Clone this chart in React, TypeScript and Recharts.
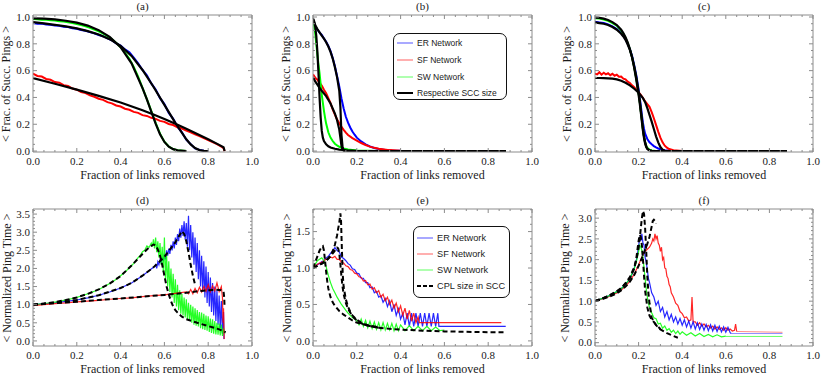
import { LineChart, Line, XAxis, YAxis } from "recharts";

type Pt = [number, number];

const BLUE = "#0000ff";
const RED = "#ff0000";
const GREEN = "#00ff00";
const BLACK = "#000000";
const FRAME = "#8c8c8c";
const SERIF = "'Liberation Serif', 'Times New Roman', serif";
const SANS = "'Liberation Sans', Arial, sans-serif";

// shared tick values
const UNIT_TICKS = [0, 0.05, 0.1, 0.15, 0.2, 0.25, 0.3, 0.35, 0.4, 0.45, 0.5, 0.55, 0.6, 0.65, 0.7, 0.75, 0.8, 0.85, 0.9, 0.95, 1];
const TIME_TICKS = [0, 0.1, 0.2, 0.3, 0.4, 0.5, 0.6, 0.7, 0.8, 0.9, 1, 1.1, 1.2, 1.3, 1.4, 1.5, 1.6, 1.7, 1.8, 1.9, 2, 2.1, 2.2, 2.3, 2.4, 2.5, 2.6, 2.7, 2.8, 2.9, 3, 3.1, 3.2, 3.3, 3.4, 3.5, 3.6];

// (a) fraction of successful pings, random removal
const A_ER: Pt[] = [[0,0.955],[0.02,0.95],[0.04,0.951],[0.06,0.944],[0.08,0.942],[0.1,0.936],[0.12,0.935],[0.14,0.927],[0.16,0.925],[0.18,0.916],[0.2,0.913],[0.22,0.903],[0.24,0.898],[0.26,0.887],[0.28,0.879],[0.3,0.866],[0.32,0.857],[0.34,0.84],[0.36,0.827],[0.38,0.804],[0.4,0.787],[0.42,0.758],[0.44,0.737],[0.46,0.697],[0.48,0.655],[0.5,0.605],[0.52,0.565],[0.54,0.505],[0.56,0.46],[0.58,0.395],[0.6,0.35],[0.62,0.285],[0.64,0.24],[0.66,0.18],[0.68,0.14],[0.7,0.085],[0.72,0.052],[0.74,0.02],[0.76,0.009],[0.78,0.002],[0.8,0]];
const A_ER_SCC: Pt[] = [[0,0.962],[0.05,0.952],[0.1,0.942],[0.15,0.93],[0.2,0.915],[0.25,0.895],[0.3,0.869],[0.35,0.835],[0.4,0.785],[0.45,0.71],[0.5,0.605],[0.55,0.48],[0.6,0.345],[0.65,0.21],[0.7,0.088],[0.72,0.05],[0.74,0.022],[0.76,0.007],[0.78,0.001],[0.8,0]];
const A_SW: Pt[] = [[0,0.985],[0.02,0.984],[0.04,0.98],[0.06,0.979],[0.08,0.975],[0.1,0.974],[0.12,0.968],[0.14,0.966],[0.16,0.96],[0.18,0.955],[0.2,0.948],[0.22,0.94],[0.24,0.93],[0.26,0.92],[0.28,0.906],[0.3,0.893],[0.32,0.876],[0.34,0.857],[0.36,0.835],[0.38,0.807],[0.4,0.775],[0.42,0.735],[0.44,0.688],[0.46,0.628],[0.48,0.556],[0.5,0.472],[0.52,0.388],[0.54,0.3],[0.56,0.21],[0.58,0.13],[0.6,0.07],[0.62,0.034],[0.64,0.015],[0.66,0.006],[0.7,0]];
const A_SW_SCC: Pt[] = [[0,0.99],[0.05,0.988],[0.1,0.982],[0.15,0.972],[0.2,0.958],[0.25,0.936],[0.3,0.902],[0.35,0.852],[0.4,0.775],[0.45,0.655],[0.5,0.47],[0.52,0.385],[0.54,0.295],[0.56,0.205],[0.58,0.125],[0.6,0.068],[0.62,0.033],[0.64,0.014],[0.66,0.005],[0.7,0]];
const A_SF: Pt[] = [[0,0.578],[0.02,0.56],[0.04,0.556],[0.06,0.538],[0.08,0.532],[0.1,0.515],[0.12,0.51],[0.14,0.492],[0.16,0.485],[0.18,0.466],[0.2,0.458],[0.22,0.44],[0.24,0.432],[0.26,0.415],[0.28,0.405],[0.3,0.39],[0.32,0.382],[0.34,0.365],[0.36,0.356],[0.38,0.34],[0.4,0.332],[0.42,0.316],[0.44,0.308],[0.46,0.292],[0.48,0.285],[0.5,0.268],[0.52,0.262],[0.54,0.248],[0.56,0.24],[0.58,0.225],[0.6,0.218],[0.62,0.202],[0.64,0.194],[0.66,0.178],[0.68,0.168],[0.7,0.152],[0.72,0.14],[0.74,0.124],[0.76,0.112],[0.78,0.096],[0.8,0.082],[0.82,0.066],[0.84,0.052],[0.86,0.034],[0.87,0.022],[0.875,0]];
const A_SF_SCC: Pt[] = [[0,0.545],[0.1,0.502],[0.2,0.458],[0.3,0.412],[0.4,0.362],[0.5,0.305],[0.55,0.273],[0.6,0.24],[0.65,0.204],[0.7,0.167],[0.75,0.128],[0.8,0.088],[0.85,0.046],[0.87,0.028],[0.875,0]];

// (b)
const B_ER: Pt[] = [[0,0.96],[0.01,0.93],[0.02,0.907],[0.03,0.884],[0.04,0.866],[0.05,0.84],[0.06,0.816],[0.07,0.784],[0.08,0.746],[0.09,0.694],[0.1,0.632],[0.11,0.558],[0.12,0.482],[0.13,0.392],[0.14,0.318],[0.15,0.256],[0.16,0.212],[0.17,0.176],[0.18,0.146],[0.19,0.122],[0.2,0.1],[0.22,0.072],[0.24,0.05],[0.26,0.034],[0.28,0.023],[0.3,0.015],[0.33,0.008],[0.36,0.004],[0.4,0.002],[0.5,0.001],[0.6,0],[0.88,0]];
const B_ER_SCC: Pt[] = [[0,0.985],[0.01,0.94],[0.02,0.91],[0.03,0.886],[0.04,0.862],[0.05,0.838],[0.06,0.812],[0.07,0.78],[0.08,0.74],[0.09,0.69],[0.1,0.625],[0.11,0.55],[0.12,0.45],[0.125,0.33],[0.13,0.12],[0.135,0.03],[0.14,0.008],[0.16,0],[0.88,0]];
const B_SF: Pt[] = [[0,0.572],[0.01,0.548],[0.02,0.532],[0.03,0.508],[0.04,0.488],[0.05,0.458],[0.06,0.432],[0.07,0.394],[0.08,0.357],[0.09,0.31],[0.1,0.272],[0.11,0.236],[0.12,0.207],[0.13,0.18],[0.14,0.158],[0.15,0.137],[0.16,0.12],[0.18,0.097],[0.2,0.078],[0.22,0.06],[0.24,0.045],[0.26,0.033],[0.28,0.024],[0.3,0.017],[0.35,0.007],[0.4,0.003],[0.5,0.001],[0.6,0],[0.88,0]];
const B_SF_SCC: Pt[] = [[0,0.55],[0.01,0.52],[0.02,0.495],[0.03,0.472],[0.04,0.45],[0.06,0.41],[0.08,0.355],[0.1,0.28],[0.11,0.23],[0.12,0.16],[0.125,0.1],[0.13,0.04],[0.135,0.01],[0.14,0.002],[0.16,0],[0.88,0]];
const B_SW: Pt[] = [[0,0.975],[0.005,0.94],[0.01,0.88],[0.015,0.8],[0.02,0.72],[0.025,0.645],[0.03,0.58],[0.035,0.5],[0.04,0.42],[0.045,0.36],[0.05,0.3],[0.055,0.25],[0.06,0.205],[0.07,0.14],[0.08,0.1],[0.09,0.075],[0.1,0.055],[0.11,0.042],[0.12,0.032],[0.14,0.02],[0.16,0.012],[0.2,0.005],[0.25,0.002],[0.3,0],[0.88,0]];
const B_SW_SCC: Pt[] = [[0,0.99],[0.005,0.97],[0.01,0.93],[0.015,0.86],[0.02,0.74],[0.025,0.58],[0.03,0.4],[0.035,0.25],[0.04,0.15],[0.045,0.1],[0.05,0.075],[0.06,0.05],[0.07,0.036],[0.08,0.027],[0.1,0.017],[0.12,0.011],[0.15,0.006],[0.2,0.002],[0.3,0],[0.88,0]];

// (c)
const C_ER: Pt[] = [[0,0.965],[0.02,0.96],[0.04,0.955],[0.06,0.945],[0.08,0.93],[0.1,0.91],[0.12,0.88],[0.13,0.86],[0.14,0.835],[0.15,0.8],[0.16,0.76],[0.17,0.71],[0.18,0.64],[0.19,0.56],[0.2,0.46],[0.205,0.4],[0.21,0.34],[0.215,0.27],[0.22,0.21],[0.225,0.165],[0.23,0.13],[0.24,0.09],[0.25,0.065],[0.26,0.05],[0.27,0.037],[0.28,0.027],[0.29,0.019],[0.3,0.013],[0.32,0.006],[0.35,0.002],[0.4,0],[0.88,0]];
const C_ER_SCC: Pt[] = [[0,0.96],[0.02,0.955],[0.04,0.95],[0.06,0.94],[0.08,0.925],[0.1,0.905],[0.12,0.875],[0.13,0.855],[0.14,0.83],[0.15,0.795],[0.16,0.755],[0.17,0.7],[0.18,0.63],[0.19,0.545],[0.2,0.44],[0.205,0.38],[0.21,0.31],[0.215,0.24],[0.22,0.17],[0.225,0.11],[0.23,0.065],[0.235,0.035],[0.24,0.018],[0.25,0.005],[0.26,0.001],[0.28,0],[0.88,0]];
const C_SW: Pt[] = [[0,0.99],[0.02,0.988],[0.04,0.982],[0.06,0.972],[0.08,0.955],[0.1,0.935],[0.12,0.9],[0.13,0.875],[0.14,0.845],[0.15,0.805],[0.16,0.76],[0.17,0.7],[0.18,0.625],[0.19,0.535],[0.2,0.43],[0.205,0.37],[0.21,0.3],[0.215,0.23],[0.22,0.16],[0.225,0.105],[0.23,0.065],[0.235,0.04],[0.24,0.024],[0.25,0.01],[0.26,0.004],[0.28,0.001],[0.3,0],[0.88,0]];
const C_SW_SCC: Pt[] = [[0,0.995],[0.02,0.993],[0.04,0.988],[0.06,0.978],[0.08,0.962],[0.1,0.94],[0.12,0.905],[0.13,0.88],[0.14,0.85],[0.15,0.81],[0.16,0.76],[0.17,0.7],[0.18,0.62],[0.19,0.525],[0.2,0.42],[0.205,0.36],[0.21,0.29],[0.215,0.22],[0.22,0.15],[0.225,0.095],[0.23,0.055],[0.235,0.03],[0.24,0.015],[0.25,0.004],[0.26,0.001],[0.28,0],[0.88,0]];
const C_SF: Pt[] = [[0,0.578],[0.01,0.572],[0.02,0.588],[0.03,0.57],[0.04,0.584],[0.05,0.572],[0.06,0.58],[0.07,0.566],[0.08,0.576],[0.09,0.562],[0.1,0.57],[0.11,0.555],[0.12,0.556],[0.13,0.54],[0.14,0.535],[0.15,0.518],[0.16,0.508],[0.17,0.49],[0.18,0.476],[0.19,0.456],[0.2,0.44],[0.21,0.42],[0.22,0.396],[0.23,0.37],[0.24,0.35],[0.25,0.33],[0.26,0.29],[0.27,0.245],[0.28,0.195],[0.29,0.145],[0.3,0.1],[0.31,0.065],[0.32,0.04],[0.33,0.025],[0.34,0.015],[0.36,0.006],[0.4,0.001],[0.45,0],[0.88,0]];
const C_SF_SCC: Pt[] = [[0,0.545],[0.02,0.545],[0.04,0.544],[0.06,0.542],[0.08,0.54],[0.1,0.535],[0.12,0.525],[0.14,0.51],[0.16,0.49],[0.18,0.465],[0.2,0.435],[0.22,0.395],[0.23,0.365],[0.24,0.32],[0.25,0.27],[0.26,0.22],[0.27,0.165],[0.28,0.11],[0.29,0.065],[0.3,0.03],[0.31,0.01],[0.32,0.002],[0.34,0],[0.88,0]];

// (d) normalized ping time
const D_ER: Pt[] = [[0,1.0],[0.05,1.02],[0.1,1.05],[0.15,1.09],[0.2,1.13],[0.25,1.19],[0.3,1.26],[0.35,1.35],[0.4,1.46],[0.45,1.6],[0.5,1.8],[0.55,2.03],[0.56,2.1],[0.565,2.0],[0.57,2.18],[0.575,2.1],[0.58,2.25],[0.585,2.15],[0.59,2.3],[0.595,2.2],[0.6,2.4],[0.605,2.25],[0.61,2.5],[0.615,2.35],[0.62,2.55],[0.625,2.4],[0.63,2.65],[0.635,2.5],[0.64,2.75],[0.645,2.55],[0.65,2.85],[0.655,2.65],[0.66,2.95],[0.665,2.75],[0.67,3.1],[0.675,2.85],[0.68,3.2],[0.685,2.9],[0.69,3.3],[0.695,2.8],[0.7,3.25],[0.705,2.6],[0.71,3.45],[0.715,2.5],[0.72,3.2],[0.725,2.3],[0.73,3.0],[0.735,2.1],[0.74,2.85],[0.745,1.9],[0.75,2.7],[0.755,1.7],[0.76,2.5],[0.765,1.5],[0.77,2.35],[0.775,1.35],[0.78,2.2],[0.785,1.2],[0.79,2.05],[0.795,1.05],[0.8,1.9],[0.805,0.95],[0.81,1.75],[0.815,0.8],[0.82,1.6],[0.825,0.7],[0.83,1.5],[0.835,0.55],[0.84,1.4],[0.845,0.45],[0.85,1.25],[0.855,0.35],[0.86,1.1],[0.865,0.2],[0.87,0.8],[0.872,0.05]];
const D_ER_CPL: Pt[] = [[0,1.0],[0.1,1.05],[0.2,1.13],[0.3,1.26],[0.4,1.46],[0.45,1.6],[0.5,1.8],[0.55,2.03],[0.6,2.32],[0.65,2.72],[0.68,3.03],[0.69,2.95],[0.7,2.75],[0.71,2.45],[0.72,2.1],[0.73,1.8],[0.74,1.55]];
const D_SF: Pt[] = [[0,0.97],[0.05,1.0],[0.1,1.03],[0.15,1.05],[0.2,1.08],[0.25,1.1],[0.3,1.12],[0.35,1.15],[0.4,1.17],[0.45,1.19],[0.5,1.22],[0.55,1.25],[0.6,1.27],[0.65,1.31],[0.7,1.35],[0.71,1.3],[0.72,1.42],[0.73,1.3],[0.74,1.45],[0.75,1.33],[0.76,1.48],[0.77,1.35],[0.78,1.5],[0.79,1.37],[0.8,1.55],[0.81,1.36],[0.82,1.52],[0.83,1.38],[0.84,1.6],[0.85,1.36],[0.86,1.5],[0.865,1.2],[0.868,0.5],[0.87,0.9],[0.873,0.05]];
const D_SF_CPL: Pt[] = [[0,1.0],[0.1,1.04],[0.2,1.08],[0.3,1.13],[0.4,1.17],[0.5,1.22],[0.6,1.27],[0.7,1.33],[0.75,1.37],[0.8,1.4],[0.84,1.41],[0.86,1.4],[0.87,1.37],[0.873,1.2],[0.875,0.92]];
const D_SW: Pt[] = [[0,1.0],[0.02,1.01],[0.04,1.02],[0.06,1.04],[0.08,1.05],[0.1,1.07],[0.12,1.09],[0.14,1.12],[0.16,1.14],[0.18,1.17],[0.2,1.2],[0.22,1.24],[0.24,1.28],[0.26,1.32],[0.28,1.37],[0.3,1.42],[0.32,1.48],[0.34,1.55],[0.36,1.62],[0.38,1.7],[0.4,1.8],[0.42,1.9],[0.44,2.02],[0.46,2.14],[0.48,2.3],[0.49,2.36],[0.5,2.46],[0.51,2.5],[0.52,2.62],[0.53,2.58],[0.54,2.7],[0.545,2.6],[0.55,2.8],[0.555,2.55],[0.56,2.85],[0.565,2.45],[0.57,2.75],[0.575,2.3],[0.58,2.7],[0.585,2.1],[0.59,2.6],[0.595,1.9],[0.6,2.85],[0.605,1.7],[0.61,2.4],[0.615,1.5],[0.62,2.2],[0.625,1.35],[0.63,2.0],[0.635,1.2],[0.64,1.85],[0.645,1.05],[0.65,1.7],[0.655,0.95],[0.66,1.55],[0.665,0.85],[0.67,1.4],[0.675,0.75],[0.68,1.3],[0.685,0.7],[0.69,1.2],[0.695,0.65],[0.7,1.15],[0.705,0.6],[0.71,1.05],[0.715,0.55],[0.72,1.0],[0.725,0.5],[0.73,0.95],[0.735,0.45],[0.74,0.9],[0.745,0.42],[0.75,0.85],[0.755,0.4],[0.76,0.8],[0.765,0.35],[0.77,0.78],[0.775,0.32],[0.78,0.75],[0.785,0.3],[0.79,0.7],[0.795,0.28],[0.8,0.68],[0.805,0.25],[0.81,0.62],[0.815,0.22],[0.82,0.6],[0.825,0.2],[0.83,0.55],[0.835,0.18],[0.84,0.5],[0.845,0.17],[0.85,0.48],[0.855,0.15],[0.86,0.45],[0.865,0.14],[0.87,0.35],[0.875,0.2]];
const D_SW_CPL: Pt[] = [[0,1.0],[0.05,1.03],[0.1,1.07],[0.15,1.13],[0.2,1.2],[0.25,1.3],[0.3,1.42],[0.35,1.58],[0.4,1.79],[0.45,2.08],[0.5,2.4],[0.53,2.58],[0.55,2.66],[0.56,2.64],[0.57,2.52],[0.58,2.35],[0.59,2.1],[0.6,1.8],[0.61,1.5],[0.62,1.28],[0.63,1.1],[0.64,0.95],[0.65,0.85],[0.66,0.78],[0.68,0.67],[0.7,0.6],[0.75,0.5],[0.8,0.41],[0.85,0.32],[0.88,0.24]];

// (e)
const E_ER: Pt[] = [[0,1.0],[0.01,1.02],[0.02,1.05],[0.03,1.06],[0.04,1.09],[0.05,1.1],[0.06,1.14],[0.07,1.16],[0.08,1.2],[0.09,1.24],[0.1,1.28],[0.11,1.24],[0.12,1.22],[0.13,1.15],[0.14,1.13],[0.15,1.1],[0.16,1.06],[0.17,1.04],[0.18,0.99],[0.19,0.98],[0.2,0.93],[0.21,0.92],[0.22,0.86],[0.23,0.86],[0.24,0.8],[0.25,0.8],[0.26,0.73],[0.27,0.74],[0.28,0.66],[0.29,0.68],[0.3,0.6],[0.31,0.62],[0.32,0.53],[0.33,0.58],[0.34,0.47],[0.35,0.55],[0.36,0.4],[0.37,0.5],[0.38,0.35],[0.39,0.44],[0.4,0.3],[0.41,0.38],[0.42,0.22],[0.43,0.38],[0.44,0.2],[0.45,0.38],[0.46,0.2],[0.47,0.38],[0.48,0.2],[0.49,0.38],[0.5,0.2],[0.51,0.38],[0.52,0.2],[0.53,0.38],[0.54,0.2],[0.55,0.38],[0.56,0.2],[0.57,0.38],[0.575,0.2],[0.88,0.2]];
const E_SF: Pt[] = [[0,1.0],[0.01,1.03],[0.02,1.05],[0.03,1.07],[0.04,1.08],[0.05,1.1],[0.06,1.12],[0.07,1.13],[0.08,1.15],[0.09,1.14],[0.1,1.16],[0.11,1.12],[0.12,1.12],[0.13,1.08],[0.14,1.07],[0.15,1.03],[0.16,1.02],[0.17,0.98],[0.18,0.97],[0.19,0.93],[0.2,0.92],[0.21,0.88],[0.22,0.87],[0.23,0.82],[0.24,0.83],[0.25,0.77],[0.26,0.78],[0.27,0.71],[0.28,0.73],[0.29,0.66],[0.3,0.69],[0.31,0.6],[0.32,0.64],[0.33,0.55],[0.34,0.6],[0.35,0.5],[0.36,0.56],[0.37,0.45],[0.38,0.52],[0.39,0.4],[0.4,0.48],[0.41,0.35],[0.42,0.45],[0.43,0.3],[0.44,0.42],[0.45,0.27],[0.46,0.38],[0.47,0.25],[0.48,0.33],[0.485,0.25],[0.86,0.25]];
const E_SW: Pt[] = [[0,1.0],[0.01,1.05],[0.02,1.1],[0.03,1.12],[0.04,1.14],[0.05,1.1],[0.06,1.02],[0.07,0.9],[0.08,0.8],[0.09,0.72],[0.1,0.66],[0.11,0.6],[0.12,0.55],[0.13,0.5],[0.14,0.46],[0.15,0.42],[0.16,0.38],[0.17,0.35],[0.18,0.32],[0.19,0.3],[0.2,0.28],[0.21,0.22],[0.22,0.3],[0.23,0.2],[0.24,0.28],[0.25,0.18],[0.26,0.27],[0.27,0.17],[0.28,0.26],[0.29,0.16],[0.3,0.25],[0.31,0.15],[0.32,0.25],[0.33,0.15],[0.34,0.24],[0.35,0.15],[0.36,0.24],[0.37,0.14],[0.38,0.23],[0.39,0.14],[0.4,0.22],[0.42,0.14],[0.44,0.21],[0.46,0.14],[0.48,0.2],[0.5,0.14],[0.52,0.2],[0.54,0.14],[0.56,0.19],[0.58,0.14],[0.6,0.15]];
const E_ER_CPL: Pt[] = [[0,1.0],[0.02,1.03],[0.04,1.06],[0.06,1.1],[0.08,1.16],[0.1,1.24],[0.11,1.28],[0.115,1.27],[0.12,1.2],[0.125,1.05],[0.13,0.88],[0.135,0.74],[0.14,0.64],[0.15,0.52],[0.16,0.44],[0.17,0.39],[0.18,0.34],[0.2,0.28],[0.22,0.24],[0.25,0.21],[0.3,0.18]];
const E_SF_CPL: Pt[] = [[0,1.0],[0.02,1.03],[0.04,1.06],[0.06,1.1],[0.08,1.17],[0.09,1.23],[0.1,1.32],[0.11,1.45],[0.115,1.54],[0.12,1.62],[0.125,1.75],[0.128,1.65],[0.132,1.25],[0.136,0.9],[0.14,0.74],[0.15,0.57],[0.16,0.47],[0.17,0.4],[0.18,0.35],[0.2,0.29],[0.22,0.25],[0.25,0.215],[0.3,0.185]];
const E_SW_CPL: Pt[] = [[0,1.0],[0.01,1.08],[0.02,1.16],[0.03,1.24],[0.04,1.29],[0.045,1.3],[0.05,1.24],[0.055,1.1],[0.06,0.95],[0.065,0.82],[0.07,0.72],[0.08,0.6],[0.09,0.53],[0.1,0.48],[0.12,0.41],[0.14,0.36],[0.16,0.32],[0.18,0.28],[0.2,0.25],[0.25,0.21],[0.3,0.18],[0.35,0.165],[0.4,0.155],[0.5,0.14],[0.6,0.13],[0.7,0.125],[0.8,0.12],[0.88,0.12]];

// (f)
const F_ER: Pt[] = [[0,1.0],[0.02,1.04],[0.04,1.08],[0.06,1.12],[0.08,1.17],[0.1,1.23],[0.12,1.3],[0.14,1.4],[0.15,1.47],[0.16,1.55],[0.17,1.65],[0.18,1.8],[0.19,2.0],[0.2,2.3],[0.205,2.55],[0.21,2.45],[0.215,2.62],[0.22,2.4],[0.225,2.35],[0.23,2.05],[0.235,1.95],[0.24,1.75],[0.245,1.55],[0.25,1.45],[0.26,1.2],[0.27,1.1],[0.28,0.9],[0.29,1.0],[0.3,0.75],[0.31,0.85],[0.32,0.62],[0.33,0.75],[0.34,0.55],[0.35,0.68],[0.36,0.5],[0.37,0.62],[0.38,0.45],[0.39,0.58],[0.4,0.42],[0.41,0.55],[0.42,0.38],[0.43,0.52],[0.44,0.35],[0.45,0.5],[0.46,0.33],[0.47,0.48],[0.48,0.32],[0.49,0.45],[0.5,0.3],[0.51,0.44],[0.52,0.29],[0.53,0.43],[0.54,0.28],[0.55,0.42],[0.56,0.27],[0.57,0.4],[0.58,0.26],[0.59,0.38],[0.6,0.25],[0.61,0.37],[0.62,0.24],[0.625,0.22]];
const F_ER_TAIL: Pt[] = [[0.625,0.22],[0.86,0.22]];
const F_SF: Pt[] = [[0,1.0],[0.02,1.03],[0.04,1.07],[0.06,1.1],[0.08,1.15],[0.1,1.2],[0.12,1.27],[0.14,1.36],[0.16,1.48],[0.18,1.65],[0.2,1.88],[0.21,2.0],[0.22,2.12],[0.23,2.2],[0.24,2.25],[0.25,2.3],[0.26,2.4],[0.265,2.5],[0.27,2.45],[0.275,2.62],[0.28,2.5],[0.285,2.58],[0.29,2.4],[0.295,2.35],[0.3,2.2],[0.305,2.3],[0.31,2.0],[0.315,2.05],[0.32,1.8],[0.325,1.78],[0.33,1.6],[0.335,1.55],[0.34,1.4],[0.345,1.35],[0.35,1.2],[0.36,1.1],[0.37,0.95],[0.38,0.9],[0.39,0.75],[0.4,0.7],[0.41,0.6],[0.42,0.62],[0.43,0.52],[0.44,0.55],[0.445,1.1],[0.45,0.5],[0.46,0.5],[0.47,0.42],[0.48,0.48],[0.49,0.4],[0.5,0.45],[0.51,0.38],[0.52,0.42],[0.53,0.35],[0.54,0.4],[0.55,0.33],[0.56,0.38],[0.57,0.32],[0.58,0.36],[0.59,0.3],[0.6,0.36],[0.61,0.3],[0.62,0.33],[0.63,0.28],[0.64,0.3],[0.645,0.45],[0.65,0.27]];
const F_SF_TAIL: Pt[] = [[0.65,0.27],[0.86,0.25]];
const F_SW: Pt[] = [[0,1.0],[0.02,1.04],[0.04,1.08],[0.06,1.12],[0.08,1.17],[0.1,1.23],[0.12,1.3],[0.14,1.4],[0.16,1.55],[0.18,1.78],[0.19,1.95],[0.2,2.2],[0.205,2.35],[0.21,2.3],[0.215,2.22],[0.22,2.05],[0.225,1.8],[0.23,1.55],[0.235,1.3],[0.24,1.1],[0.245,0.95],[0.25,0.85],[0.26,0.72],[0.27,0.6],[0.28,0.58],[0.29,0.45],[0.3,0.47],[0.31,0.35],[0.32,0.4],[0.33,0.3],[0.34,0.34],[0.35,0.25],[0.36,0.3],[0.37,0.22],[0.38,0.28],[0.39,0.2],[0.4,0.26],[0.42,0.18],[0.44,0.24],[0.46,0.16],[0.48,0.22],[0.5,0.15],[0.52,0.2],[0.54,0.14],[0.56,0.19],[0.58,0.14],[0.6,0.16]];
const F_SW_TAIL: Pt[] = [[0.6,0.15],[0.86,0.15]];
const F_CPL_A: Pt[] = [[0,1.0],[0.02,1.04],[0.04,1.08],[0.06,1.12],[0.08,1.18],[0.1,1.24],[0.12,1.32],[0.14,1.43],[0.16,1.58],[0.18,1.82],[0.19,2.0],[0.2,2.28],[0.205,2.5],[0.21,2.75],[0.215,3.0],[0.22,3.17],[0.225,3.1],[0.23,2.75],[0.235,2.2],[0.24,1.6],[0.245,1.2],[0.25,0.95],[0.26,0.6],[0.28,0.42],[0.3,0.32],[0.33,0.23],[0.36,0.16],[0.38,0.12]];
const F_CPL_B: Pt[] = [[0,1.0],[0.04,1.08],[0.08,1.17],[0.12,1.3],[0.16,1.55],[0.18,1.78],[0.19,2.05],[0.2,2.45],[0.205,2.6],[0.21,2.55],[0.215,2.35],[0.22,2.0],[0.225,1.6],[0.23,1.25],[0.24,0.85],[0.25,0.65],[0.26,0.55],[0.27,0.5],[0.28,0.43],[0.3,0.33]];
const F_CPL_C: Pt[] = [[0,1.0],[0.02,1.03],[0.04,1.06],[0.06,1.1],[0.08,1.14],[0.1,1.19],[0.12,1.26],[0.14,1.35],[0.16,1.47],[0.18,1.63],[0.2,1.85],[0.22,2.1],[0.24,2.38],[0.25,2.55],[0.26,2.8],[0.265,2.93],[0.27,2.96],[0.275,2.93],[0.28,2.87]];

interface Series {
  pts: Pt[];
  color: string;
  width: number;
  dash?: string;
  opacity?: number;
}

const rows = (pts: Pt[]) => pts.map(([x, y]) => ({ x, y }));

const solid = (pts: Pt[], color: string, width = 2): Series => ({ pts, color, width });
const noisy = (pts: Pt[], color: string): Series => ({ pts, color, width: 1.2, opacity: 0.85 });
const dashed = (pts: Pt[]): Series => ({ pts, color: BLACK, width: 2, dash: "5 3" });

type Side = "bottom" | "left" | "top" | "right";

function makeTick(side: Side, major: number) {
  return (p: any) => {
    const v = Number(p.payload?.value ?? 0);
    const r = v / major;
    const isMajor = Math.abs(r - Math.round(r)) < 1e-6;
    const len = isMajor ? 4 : 2;
    const x = Number(p.x);
    const y = Number(p.y);
    const label = v.toFixed(1);
    const txt = { fontFamily: SERIF, fontSize: 11, fill: "#1a1a1a" };
    if (side === "bottom") {
      return (
        <g>
          <line x1={x} x2={x} y1={y} y2={y - len} stroke={FRAME} />
          {isMajor && <text x={x} y={y + 12.5} textAnchor="middle" {...txt}>{label}</text>}
        </g>
      );
    }
    if (side === "left") {
      return (
        <g>
          <line x1={x} x2={x + len} y1={y} y2={y} stroke={FRAME} />
          {isMajor && <text x={x - 3} y={y + 3.8} textAnchor="end" {...txt}>{label}</text>}
        </g>
      );
    }
    if (side === "top") {
      return <line x1={x} x2={x} y1={y} y2={y + len} stroke={FRAME} />;
    }
    return <line x1={x} x2={x - len} y1={y} y2={y} stroke={FRAME} />;
  };
}

interface PanelProps {
  x0: number;
  x1: number;
  y0: number;
  y1: number;
  yDomain: [number, number];
  yTicks: number[];
  yMajor: number;
  series: Series[];
  title: string;
  yLabel: string;
  yLabelX: number;
}

function Panel(p: PanelProps) {
  const w = p.x1 - p.x0 + 60;
  const h = p.y1 - p.y0 + 45;
  const cx = (p.x0 + p.x1) / 2;
  const cy = (p.y0 + p.y1) / 2;
  const text = { position: "absolute" as const, fontFamily: SERIF, fontSize: 12, color: "#1a1a1a", whiteSpace: "nowrap" as const, lineHeight: 1 };
  return (
    <>
      <div style={{ position: "absolute", left: p.x0 - 40, top: p.y0 - 15 }}>
        <LineChart width={w} height={h} margin={{ top: 14, right: 19, bottom: 5, left: 10 }}>
          <XAxis xAxisId="b" type="number" dataKey="x" domain={[0, 1]} allowDataOverflow ticks={UNIT_TICKS} interval={0}
            tickSize={0} tickMargin={0} tickLine={false} axisLine={{ stroke: FRAME }} height={25} tick={makeTick("bottom", 0.2)} />
          <XAxis xAxisId="t" orientation="top" type="number" dataKey="x" domain={[0, 1]} allowDataOverflow ticks={UNIT_TICKS} interval={0}
            tickSize={0} tickMargin={0} tickLine={false} axisLine={{ stroke: FRAME }} height={1} tick={makeTick("top", 0.2)} />
          <YAxis yAxisId="l" type="number" domain={p.yDomain} allowDataOverflow ticks={p.yTicks} interval={0}
            tickSize={0} tickMargin={0} tickLine={false} axisLine={{ stroke: FRAME }} width={30} tick={makeTick("left", p.yMajor)} />
          <YAxis yAxisId="r" orientation="right" type="number" domain={p.yDomain} allowDataOverflow ticks={p.yTicks} interval={0}
            tickSize={0} tickMargin={0} tickLine={false} axisLine={{ stroke: FRAME }} width={1} tick={makeTick("right", p.yMajor)} />
          {p.series.map((s, i) => (
            <Line
              key={i}
              xAxisId="b"
              yAxisId="l"
              data={rows(s.pts)}
              dataKey="y"
              type="linear"
              stroke={s.color}
              strokeWidth={s.width}
              strokeDasharray={s.dash}
              strokeOpacity={s.opacity ?? 1}
              dot={false}
              activeDot={false}
              isAnimationActive={false}
            />
          ))}
        </LineChart>
      </div>
      <div style={{ ...text, fontSize: 11, left: cx, top: p.y0 - 9, transform: "translate(-50%, -50%)" }}>{p.title}</div>
      <div style={{ ...text, left: cx, top: p.y1 + 23, transform: "translate(-50%, -50%)" }}>Fraction of links removed</div>
      <div style={{ ...text, left: p.yLabelX, top: cy, transform: "translate(-50%, -50%) rotate(-90deg)" }}>{p.yLabel}</div>
    </>
  );
}

interface LegendItem {
  label: string;
  color: string;
  width: number;
  dash?: string;
}

interface LegendProps {
  left: number;
  top: number;
  width: number;
  height: number;
  first: number;
  step: number;
  fontSize: number;
  items: LegendItem[];
}

function Legend({ left, top, width, height, first, step, fontSize, items }: LegendProps) {
  return (
    <div style={{ position: "absolute", left, top, width, height, border: "1.3px solid #111", borderRadius: 7, background: "#fff", boxSizing: "border-box" }}>
      {items.map((it, i) => (
        <div key={it.label} style={{ position: "absolute", left: 3, top: first + i * step - 6, height: 12, display: "flex", alignItems: "center" }}>
          <svg width={17} height={12}>
            <line x1={0} x2={16} y1={6} y2={6} stroke={it.color} strokeWidth={it.width} strokeDasharray={it.dash} />
          </svg>
          <span style={{ fontFamily: SANS, fontSize, color: "#1a1a1a", marginLeft: 3, whiteSpace: "nowrap" }}>{it.label}</span>
        </div>
      ))}
    </div>
  );
}

const NET_ITEMS: LegendItem[] = [
  { label: "ER Network", color: "#6f6fff", width: 1.2 },
  { label: "SF Network", color: "#ff7a7a", width: 1.2 },
  { label: "SW Network", color: "#7aff7a", width: 1.2 },
];

const PINGS = "< Frac. of Succ. Pings >";
const TIME = "< Normalized Ping Time >";
const TOP_DOMAIN: [number, number] = [-0.007, 1.015];

export default function App() {
  return (
    <div style={{ position: "absolute", left: 0, top: 0, width: 830, height: 376, background: "#fff", overflow: "hidden" }}>
      <Panel x0={33} x1={252} y0={15} y1={152} yDomain={TOP_DOMAIN} yTicks={UNIT_TICKS} yMajor={0.2} title="(a)" yLabel={PINGS} yLabelX={6}
        series={[solid(A_ER, BLUE), solid(A_SW, GREEN), solid(A_SF, RED), solid(A_ER_SCC, BLACK, 2.2), solid(A_SW_SCC, BLACK, 2.2), solid(A_SF_SCC, BLACK, 2.2)]} />
      <Panel x0={313} x1={532} y0={15} y1={152} yDomain={TOP_DOMAIN} yTicks={UNIT_TICKS} yMajor={0.2} title="(b)" yLabel={PINGS} yLabelX={286}
        series={[solid(B_ER, BLUE), solid(B_SF, RED), solid(B_SW, GREEN), solid(B_ER_SCC, BLACK, 2.2), solid(B_SF_SCC, BLACK, 2.2), solid(B_SW_SCC, BLACK, 2.2)]} />
      <Panel x0={595} x1={813} y0={15} y1={152} yDomain={TOP_DOMAIN} yTicks={UNIT_TICKS} yMajor={0.2} title="(c)" yLabel={PINGS} yLabelX={567}
        series={[solid(C_ER, BLUE), solid(C_SW, GREEN), solid(C_SF, RED), solid(C_ER_SCC, BLACK, 2.2), solid(C_SW_SCC, BLACK, 2.2), solid(C_SF_SCC, BLACK, 2.2)]} />
      <Panel x0={33} x1={252} y0={209} y1={346} yDomain={[-0.14, 3.64]} yTicks={TIME_TICKS} yMajor={0.5} title="(d)" yLabel={TIME} yLabelX={7}
        series={[noisy(D_ER, BLUE), noisy(D_SW, GREEN), noisy(D_SF, RED), dashed(D_ER_CPL), dashed(D_SW_CPL), dashed(D_SF_CPL)]} />
      <Panel x0={313} x1={532} y0={209} y1={346} yDomain={[-0.07, 1.81]} yTicks={TIME_TICKS.filter((t) => t <= 1.8)} yMajor={0.5} title="(e)" yLabel={TIME} yLabelX={287}
        series={[noisy(E_ER, BLUE), noisy(E_SF, RED), noisy(E_SW, GREEN), dashed(E_SW_CPL), dashed(E_ER_CPL), dashed(E_SF_CPL)]} />
      <Panel x0={595} x1={813} y0={209} y1={346} yDomain={[-0.08, 3.22]} yTicks={TIME_TICKS.filter((t) => t <= 3.2)} yMajor={0.5} title="(f)" yLabel={TIME} yLabelX={565}
        series={[
          { pts: F_ER_TAIL, color: BLUE, width: 1, opacity: 0.45 },
          { pts: F_SF_TAIL, color: RED, width: 1, opacity: 0.45 },
          { pts: F_SW_TAIL, color: GREEN, width: 1, opacity: 0.6 },
          noisy(F_SF, RED), noisy(F_ER, BLUE), noisy(F_SW, GREEN),
          dashed(F_CPL_A), dashed(F_CPL_B), dashed(F_CPL_C),
        ]} />
      <Legend left={393} top={33} width={114} height={67} first={9.3} step={16.6} fontSize={8.5}
        items={[...NET_ITEMS, { label: "Respective SCC size", color: BLACK, width: 2 }]} />
      <Legend left={413} top={226} width={97} height={72} first={10.7} step={16.2} fontSize={9.2}
        items={[...NET_ITEMS, { label: "CPL size in SCC", color: BLACK, width: 2, dash: "4 2" }]} />
    </div>
  );
}
